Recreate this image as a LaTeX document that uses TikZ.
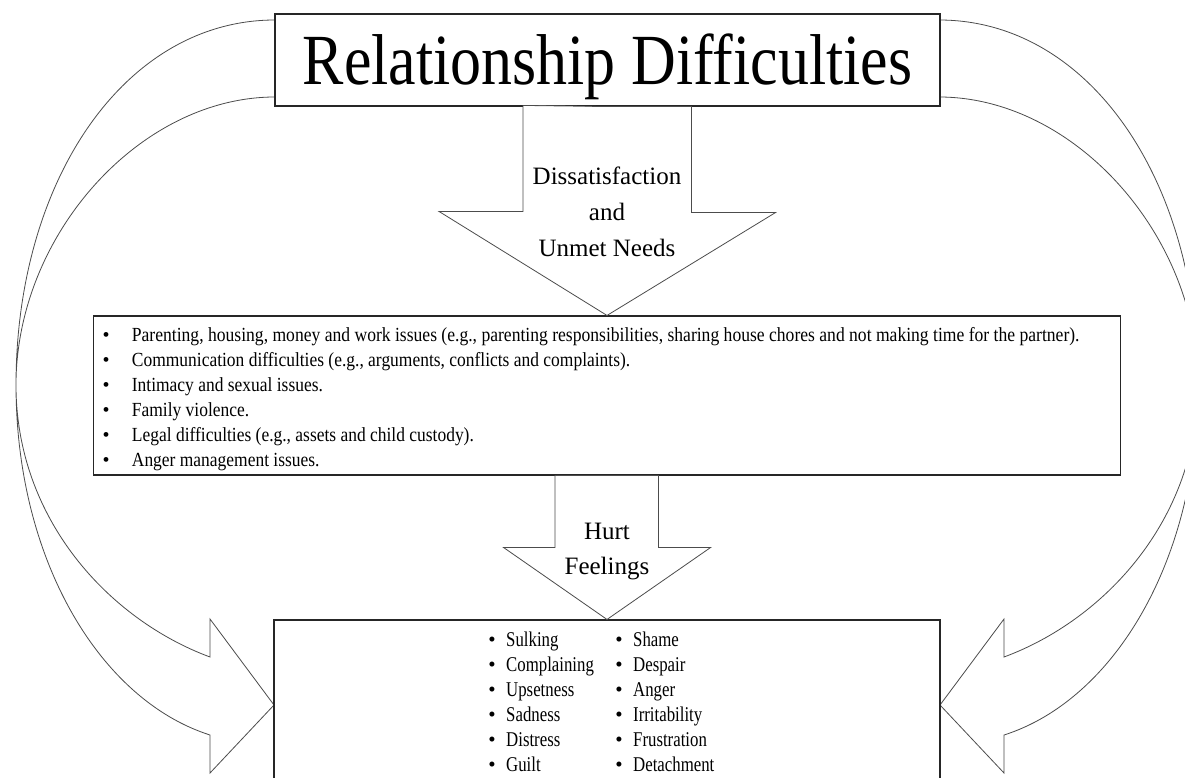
\documentclass[tikz,border=0pt]{standalone}
\usepackage{fontspec}
\setmainfont{Liberation Serif}
\usepackage{graphicx}
\usetikzlibrary{calc}

% horizontally condensed text
\newcommand{\squeeze}[2]{\scalebox{#1}[1]{#2}}
\newcommand{\titlefont}{\fontsize{72}{80}\selectfont}
\newcommand{\labelfont}{\fontsize{25}{35.8}\selectfont}
\newcommand{\issuefont}{\fontsize{20}{24}\selectfont}
\newcommand{\feelfont}{\fontsize{21}{25}\selectfont}

\tikzset{
  boxline/.style={draw=black!85, line width=1.1pt, fill=white, inner sep=0pt},
  blockarrow/.style={draw=black!70, line width=0.8pt, fill=white, line join=miter},
  flowlabel/.style={font=\labelfont, align=center, inner sep=0pt},
  listline/.style={inner sep=0pt, anchor=base west},
  listbullet/.style={inner sep=0pt, anchor=base},
}

\begin{document}
\begin{tikzpicture}[x=1pt,y=-1pt]
\useasboundingbox (0,0) rectangle (1185,778);
\clip (0,0) rectangle (1185,778);

% curved side arrows from the title back down to the feelings box
\foreach \s/\o in {1/0,-1/1214}{
  \begin{scope}[shift={(\o,0)}, xscale=\s]
    \draw[blockarrow] (275,20) .. controls (125,20) and (16,180) .. (16,385)
      .. controls (16,560) and (100,700) .. (210,735)
      -- (210,773) -- (274,705) -- (210,619) -- (210,657)
      .. controls (110,620) and (16,520) .. (16,385)
      .. controls (16,235) and (140,97) .. (275,97) -- cycle;
  \end{scope}
}

% boxes
\node[boxline, minimum width=665, minimum height=92, text height=58, text depth=8]
  (title) at (607.5,60) {\titlefont\squeeze{0.86}{Relationship Difficulties}};
\node[boxline, minimum width=1027, minimum height=159] (issues) at (607,395.5) {};
\node[boxline, minimum width=666, minimum height=200] (feelings) at (607,720) {};

% block arrows between the boxes
\draw[blockarrow] (title.south) -- ++(84,0) -- ++(0,106) -- ++(84,0) -- (issues.north)
  -- ++(-168,-104) -- ++(84,0) -- ++(0,-106) -- cycle;
\draw[blockarrow] (issues.south) -- ++(51.5,0) -- ++(0,72) -- ++(52,0) -- (feelings.north)
  -- ++(-103.5,-72) -- ++(51.5,0) -- ++(0,-72) -- cycle;

\node[flowlabel] (dissat) at (607,212) {Dissatisfaction\\and\\Unmet Needs};
\node[flowlabel] (hurt) at (607,551.5) {Hurt\\Feelings};

% list of issues
\foreach \w/\t [count=\i from 0] in {
  0.879/{Parenting, housing, money and work issues (e.g., parenting responsibilities, sharing house chores and not making time for the partner).},
  0.873/{Communication difficulties (e.g., arguments, conflicts and complaints).},
  0.873/{Intimacy and sexual issues.},
  0.873/{Family violence.},
  0.873/{Legal difficulties (e.g., assets and child custody).},
  0.873/{Anger management issues.}}{
  \node[listbullet] (ib\i) at (106,{341.7+24.9*\i}) {\issuefont\textbullet};
  \node[listline] (issue\i) at (131.7,{341.7+24.9*\i}) {\issuefont\squeeze{\w}{\t}};
}

% list of feelings, two columns
\foreach \a/\b [count=\i from 0] in {Sulking/Shame, Complaining/Despair, Upsetness/Anger,
  Sadness/Irritability, Distress/Frustration, Guilt/Detachment}{
  \node[listbullet] (fa\i) at (492,{646.7+25*\i}) {\feelfont\textbullet};
  \node[listline] (feelA\i) at (506,{646.7+25*\i}) {\feelfont\squeeze{0.8}{\a}};
  \node[listbullet] (fb\i) at (619,{646.7+25*\i}) {\feelfont\textbullet};
  \node[listline] (feelB\i) at (633,{646.7+25*\i}) {\feelfont\squeeze{0.8}{\b}};
}
\end{tikzpicture}
\end{document}
